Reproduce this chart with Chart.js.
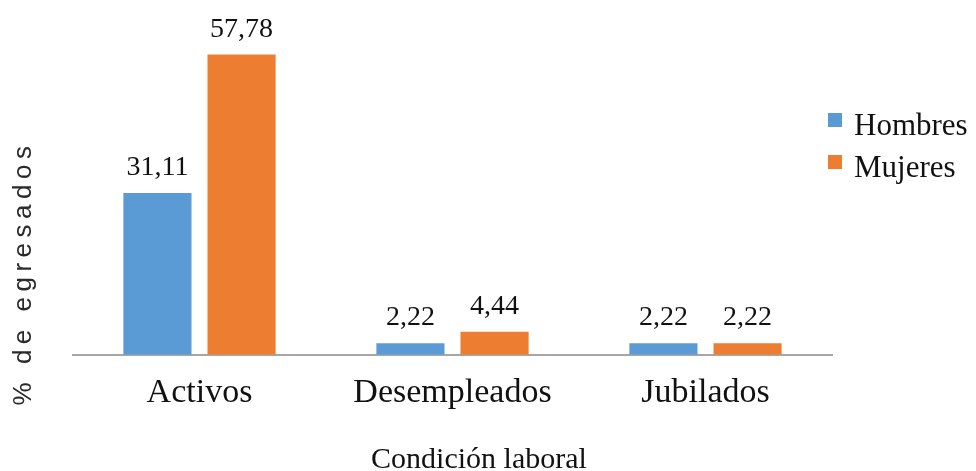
<!DOCTYPE html>
<html lang="es">
<head>
    <meta charset="UTF-8">
    <title>Condición laboral</title>
    <script src="https://cdn.jsdelivr.net/npm/chart.js"></script>
    <style>
        body { margin: 0; background: #fff; }
        .caja { width: 976px; height: 471px; position: relative; }
    </style>
</head>
<body>
    <div class="caja">
        <canvas id="graficoCondicion"></canvas>
    </div>

<script>
    // datos
    var categorias = ['Activos', 'Desempleados', 'Jubilados'];
    var hombres = [31.11, 2.22, 2.22];
    var mujeres = [57.78, 4.44, 2.22];
    var series = ['Hombres', 'Mujeres'];
    var tituloX = 'Condición laboral';
    var tituloY = '% de egresados';

    var serif = "'Liberation Serif', 'Times New Roman', serif";
    var colores = ['#5b9bd5', '#ed7d31'];

    // etiquetas encima de cada barra (con coma decimal)
    var etiquetasBarras = {
        id: 'etiquetasBarras',
        afterDatasetsDraw: function (chart) {
            var ctx = chart.ctx;
            ctx.save();
            ctx.font = '28px ' + serif;
            ctx.fillStyle = '#111';
            ctx.textAlign = 'center';
            ctx.textBaseline = 'alphabetic';
            chart.data.datasets.forEach(function (ds, i) {
                var meta = chart.getDatasetMeta(i);
                meta.data.forEach(function (barra, j) {
                    var texto = ds.data[j].toFixed(2).replace('.', ',');
                    ctx.fillText(texto, barra.x, barra.y - 18);
                });
            });
            ctx.restore();
        }
    };

    // titulos de los ejes (el de y con letras separadas como en el original)
    var titulosEjes = {
        id: 'titulosEjes',
        afterDraw: function (chart) {
            var ctx = chart.ctx;
            ctx.save();
            ctx.font = '30px ' + serif;
            ctx.fillStyle = '#111';
            ctx.textAlign = 'center';
            ctx.textBaseline = 'alphabetic';
            ctx.fillText(tituloX, 479, 468);

            ctx.translate(24, 276);
            ctx.rotate(-Math.PI / 2);
            ctx.font = "26px 'Liberation Sans', Arial, sans-serif";
            ctx.letterSpacing = '5.5px';
            ctx.fillStyle = '#2a2a2a';
            ctx.textBaseline = 'middle';
            ctx.fillText(tituloY, 3, 0);
            ctx.restore();
        }
    };

    // leyenda a la derecha
    var leyenda = {
        id: 'leyenda',
        afterDraw: function (chart) {
            var ctx = chart.ctx;
            ctx.save();
            ctx.font = '31px ' + serif;
            ctx.textBaseline = 'alphabetic';
            chart.data.datasets.forEach(function (ds, i) {
                var base = 135 + i * 42;
                ctx.fillStyle = ds.backgroundColor;
                ctx.fillRect(828, base - 22, 14, 14);
                ctx.fillStyle = '#111';
                ctx.fillText(ds.label, 854, base);
            });
            ctx.restore();
        }
    };

    var config = {
        type: 'bar',
        data: {
            labels: categorias,
            datasets: [{
                label: series[0],
                data: hombres,
                backgroundColor: colores[0],
                barPercentage: 0.81,
                categoryPercentage: 0.665
            },
            {
                label: series[1],
                data: mujeres,
                backgroundColor: colores[1],
                barPercentage: 0.81,
                categoryPercentage: 0.665
            }]
        },
        options: {
            responsive: true,
            maintainAspectRatio: false,
            animation: false,
            layout: {
                padding: { left: 73, right: 144, top: 43, bottom: 39.5 }
            },
            plugins: {
                legend: { display: false },
                tooltip: { enabled: false }
            },
            scales: {
                x: {
                    grid: { display: false, drawTicks: false },
                    border: { display: true, color: '#a6a6a6', width: 2 },
                    ticks: {
                        padding: 18,
                        color: '#111',
                        font: { family: serif, size: 34 }
                    }
                },
                y: {
                    display: false,
                    min: 0,
                    max: 60
                }
            }
        },
        plugins: [etiquetasBarras, titulosEjes, leyenda]
    };

    var grafico = new Chart(document.getElementById('graficoCondicion'), config);
</script>
</body>
</html>
